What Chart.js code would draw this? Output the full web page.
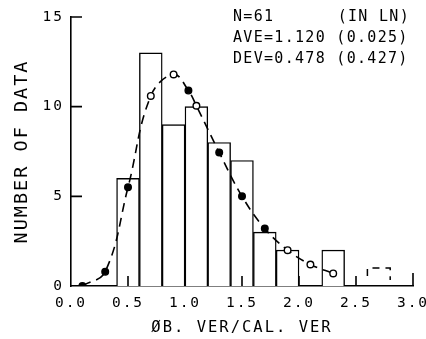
<!DOCTYPE html>
<html>
<head>
<meta charset="utf-8">
<script src="https://cdn.jsdelivr.net/npm/chart.js@4"></script>
<style>
  html, body { margin: 0; padding: 0; background: #fff; }
  #wrap { width: 426px; height: 339px; position: relative; }
</style>
</head>
<body>
<div id="wrap"><canvas id="chartHist"></canvas></div>
<script>
// histogram bins (bin centres, width 0.2)
const binCenters = [0.5, 0.7, 0.9, 1.1, 1.3, 1.5, 1.7, 1.9, 2.1, 2.3];
const binCounts  = [6, 13, 9, 10, 8, 7, 3, 2, 0, 2];
// the dashed (out of range) bin
const dashCenters = [2.7];
const dashCounts  = [1];
// fitted log-normal curve
const curveX = [0.1, 0.3, 0.5, 0.7, 0.9, 1.03, 1.1, 1.3, 1.5, 1.7, 1.9, 2.1, 2.3];
const curveY = [0, 0.8, 5.5, 10.6, 11.8, 10.9, 10.05, 7.45, 5.0, 3.2, 2.0, 1.2, 0.7];
const curveFilled = [true, true, true, false, false, true, false, true, true, true, false, false, false];
// tick values
const xTicks = [0, 0.5, 1.0, 1.5, 2.0, 2.5, 3.0];
const yTicks = [0, 5, 10, 15];
const statLines = ['AVE=1.120 (0.025)', 'DEV=0.478 (0.427)'];

const FONT = '"DejaVu Sans Mono", monospace';

// draws inward tick marks, the dashed bin and the statistics text
const extras = {
    id: 'extras',
    beforeDraw(chart) {
        chart.ctx.letterSpacing = '2px';
    },
    afterDatasetsDraw(chart) {
        const ctx = chart.ctx;
        const meta = chart.getDatasetMeta(1);
        ctx.save();
        ctx.strokeStyle = '#000';
        ctx.lineWidth = 1.5;
        ctx.setLineDash([7, 6]);
        meta.data.forEach(bar => {
            const l = bar.x - bar.width / 2, r = bar.x + bar.width / 2;
            ctx.beginPath();
            ctx.moveTo(l, bar.base - 10);
            ctx.lineTo(l, bar.y);
            ctx.lineTo(r, bar.y);
            ctx.lineTo(r, bar.base - 6);
            ctx.stroke();
        });
        ctx.restore();
    },
    afterDraw(chart) {
        const ctx = chart.ctx;
        const xs = chart.scales.x, ys = chart.scales.y;
        const area = chart.chartArea;
        ctx.save();
        ctx.strokeStyle = '#000';
        ctx.lineWidth = 1.6;
        ctx.beginPath();
        xTicks.forEach(v => {
            if (v === 0) return;
            const px = xs.getPixelForValue(v);
            ctx.moveTo(px, area.bottom);
            ctx.lineTo(px, area.bottom - (v === 3.0 ? 13 : 10));
        });
        yTicks.forEach(v => {
            if (v === 0) return;
            const py = ys.getPixelForValue(v);
            ctx.moveTo(area.left, py);
            ctx.lineTo(area.left + 11, py);
        });
        ctx.stroke();

        ctx.fillStyle = '#000';
        ctx.font = '15px ' + FONT;
        ctx.letterSpacing = '1.3px';
        ctx.textBaseline = 'middle';
        ctx.textAlign = 'left';
        ctx.fillText('N=61', 233, 17);
        statLines.forEach((s, i) => ctx.fillText(s, 233, 38 + i * 21));
        ctx.textAlign = 'right';
        ctx.fillText('(IN LN)', 410, 17);
        ctx.restore();
    }
};

new Chart(document.getElementById('chartHist').getContext('2d'), {
    type: 'bar',
    data: {
        datasets: [
            { label: 'Number of data', data: binCenters.map((x, i) => ({ x: x, y: binCounts[i] })),
              backgroundColor: '#fff', borderColor: '#000', borderWidth: 1.4,
              barPercentage: 1, categoryPercentage: 1, grouped: false, order: 2 },
            { label: 'Out of range', data: dashCenters.map((x, i) => ({ x: x, y: dashCounts[i] })),
              backgroundColor: 'rgba(0,0,0,0)', borderWidth: 0,
              barPercentage: 1, categoryPercentage: 1, grouped: false, order: 3 },
            { type: 'line', label: 'Log-normal', data: curveX.map((x, i) => ({ x: x, y: curveY[i] })),
              borderColor: '#000', borderWidth: 1.6, borderDash: [9, 6], tension: 0.4, fill: false,
              pointRadius: 3.3, pointBorderWidth: 1.4, pointBorderColor: '#000',
              pointBackgroundColor: curveFilled.map(f => f ? '#000' : '#fff'), order: 1 }
        ]
    },
    options: {
        responsive: true,
        maintainAspectRatio: false,
        animation: false,
        layout: { padding: { top: 17, right: 13, bottom: 0, left: 0 } },
        plugins: { legend: { display: false }, tooltip: { enabled: false } },
        scales: {
            x: {
                type: 'linear', min: 0, max: 3, offset: false,
                grid: { display: false, drawTicks: false },
                border: { display: true, color: '#000', width: 1.6 },
                afterBuildTicks: s => { s.ticks = xTicks.map(v => ({ value: v })); },
                ticks: { color: '#000', padding: 9, maxRotation: 0, autoSkip: false,
                         font: { family: FONT, size: 14.5 }, callback: v => v.toFixed(1) },
                title: { display: true, text: 'ØB. VER/CAL. VER', color: '#000',
                         font: { family: FONT, size: 15.5, lineHeight: 1 }, padding: { top: 0, bottom: 3 } },
                afterFit: s => { s.height = 53; s.paddingLeft = 0; s.paddingRight = 0; }
            },
            y: {
                min: 0, max: 15,
                grid: { display: false, drawTicks: false },
                border: { display: true, color: '#000', width: 1.6 },
                afterBuildTicks: s => { s.ticks = yTicks.map(v => ({ value: v })); },
                ticks: { color: '#000', padding: 7, font: { family: FONT, size: 14.5 } },
                title: { display: true, text: 'NUMBER OF DATA', color: '#000',
                         font: { family: FONT, size: 18.5, lineHeight: 1 }, padding: { top: 13, bottom: 0 } },
                afterFit: s => { s.width = 71; s.paddingTop = 0; s.paddingBottom = 0; }
            }
        }
    },
    plugins: [extras]
});
</script>
</body>
</html>
